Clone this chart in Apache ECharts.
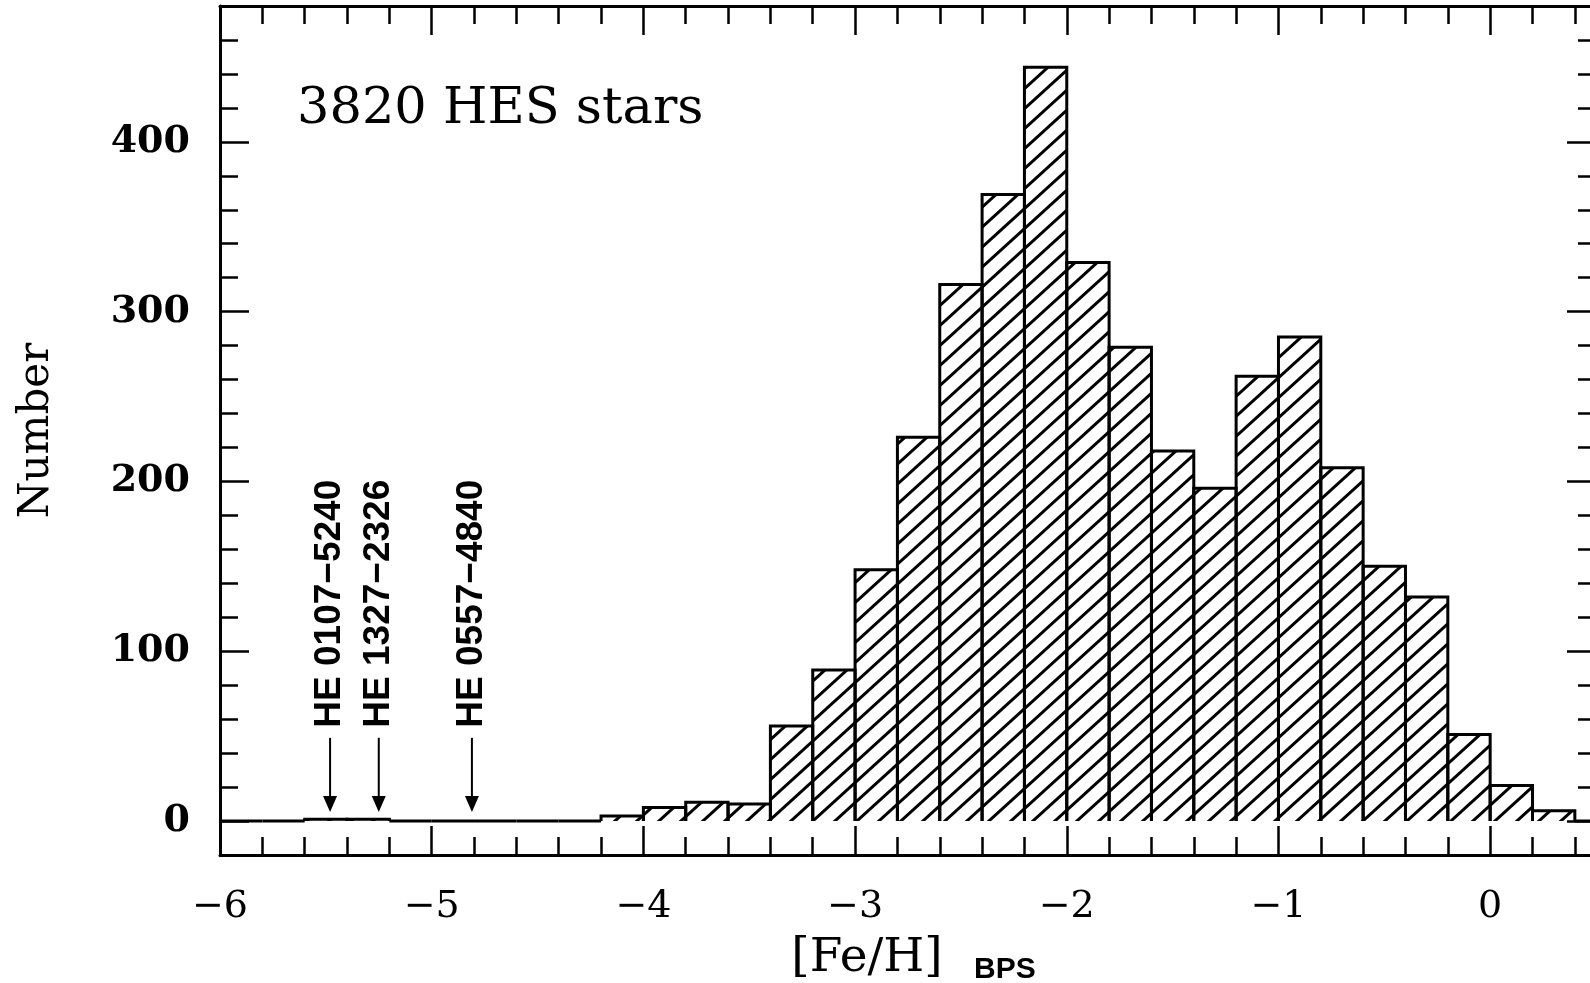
<!DOCTYPE html>
<html>
<head>
<meta charset="utf-8">
<script src="https://cdn.jsdelivr.net/npm/echarts@6/dist/echarts.min.js"></script>
<style>
html,body{margin:0;padding:0;background:#fff;}
#chart{width:1590px;height:983px;}
</style>
</head>
<body>
<div id="chart"></div>
<script>
// ---- data ----
const binStarts = [-6.0,-5.8,-5.6,-5.4,-5.2,-5.0,-4.8,-4.6,-4.4,-4.2,-4.0,-3.8,-3.6,-3.4,-3.2,-3.0,-2.8,-2.6,-2.4,-2.2,-2.0,-1.8,-1.6,-1.4,-1.2,-1.0,-0.8,-0.6,-0.4,-0.2,0.0,0.2,0.4];
const binWidth = 0.2;
const counts = [0,0,1,1,0,0,0,0,0,3,8,11,10,56,89,148,226,316,369,444,329,279,218,196,262,285,208,150,132,51,21,6,0];
const xMajorTicks = [-6,-5,-4,-3,-2,-1,0];
const xMinorTicks = [-5.8,-5.6,-5.4,-5.2,-4.8,-4.6,-4.4,-4.2,-3.8,-3.6,-3.4,-3.2,-2.8,-2.6,-2.4,-2.2,-1.8,-1.6,-1.4,-1.2,-0.8,-0.6,-0.4,-0.2,0.2,0.4];
const yMajorTicks = [0,100,200,300,400];
const yMinorTicks = [20,40,60,80,120,140,160,180,220,240,260,280,320,340,360,380,420,440,460];
const starNames = ['HE 0107\u22125240','HE 1327\u22122326','HE 0557\u22124840'];
const starFeH = [-5.48,-5.25,-4.81];
const arrowTop = 49;
const arrowTip = 5.3;
const labelBase = 55;
const titleText = '3820 HES stars';

// ---- hatch pattern ----
function makeHatch(){
  const w = 22, h = 20;
  const c = document.createElement('canvas');
  c.width = w; c.height = h;
  const g = c.getContext('2d');
  g.strokeStyle = '#000';
  g.lineWidth = 3;
  for (const dx of [-w, 0, w]) {
    g.beginPath();
    g.moveTo(dx - 3, h + 3 * h / w);
    g.lineTo(dx + w + 3, -3 * h / w);
    g.stroke();
  }
  return c;
}
const hatch = {image: makeHatch(), repeat: 'repeat'};

const histData = binStarts.map((s, i) => [s, +(s + binWidth).toFixed(2), counts[i]]);

const chart = echarts.init(document.getElementById('chart'), null, {renderer: 'canvas'});

const serifFont = 'DejaVu Serif';
const fmt = v => String(v).replace('-', '\u2212');

function xAx(position, major, showLine, showLabel){
  return {
    type: 'value', gridIndex: 0, min: -6, max: 0.5, position: position,
    axisLine: {show: showLine, onZero: false, lineStyle: {color: '#000', width: 3}},
    axisTick: {show: true, inside: true, length: major ? 29 : 18, customValues: major ? xMajorTicks : xMinorTicks, lineStyle: {color: '#000', width: 2.5}},
    axisLabel: {show: showLabel, customValues: xMajorTicks, formatter: fmt, margin: 33, color: '#000', fontFamily: serifFont, fontSize: 38},
    splitLine: {show: false}
  };
}
function yAx(position, major, showLine, showLabel){
  return {
    type: 'value', gridIndex: 0, min: -20, max: 480, position: position,
    axisLine: {show: showLine, onZero: false, lineStyle: {color: '#000', width: 3}},
    axisTick: {show: true, inside: true, length: major ? 29 : 18, customValues: major ? yMajorTicks : yMinorTicks, lineStyle: {color: '#000', width: 2.5}},
    axisLabel: {show: showLabel, customValues: yMajorTicks, margin: 30, color: '#000', fontFamily: serifFont, fontWeight: 'bold', fontSize: 38},
    splitLine: {show: false},
    name: showLabel ? 'Number' : '',
    nameLocation: 'middle', nameRotate: 90, nameGap: 162,
    nameTextStyle: {fontFamily: serifFont, fontSize: 42, color: '#000'}
  };
}

const option = {
  animation: false,
  backgroundColor: '#fff',
  grid: {left: 220, right: -6, top: 6, bottom: 128, containLabel: false, outerBoundsMode: 'none'},
  xAxis: [
    xAx('bottom', true, true, true),
    xAx('bottom', false, false, false),
    xAx('top', true, true, false),
    xAx('top', false, false, false)
  ],
  yAxis: [
    yAx('left', true, true, true),
    yAx('left', false, false, false),
    yAx('right', true, true, false),
    yAx('right', false, false, false)
  ],
  graphic: [
    {type: 'text', left: 297, top: 84, style: {text: titleText, font: '51px "DejaVu Serif"', fill: '#000'}},
    {type: 'text', x: 867, y: 959, style: {text: '[Fe/H]', font: '47px "DejaVu Serif"', fill: '#000', align: 'center', verticalAlign: 'middle'}},
    {type: 'text', x: 974, y: 970, style: {text: 'BPS', font: 'bold 30px "Liberation Sans"', fill: '#000', align: 'left', verticalAlign: 'middle'}}
  ],
  series: [
    {
      type: 'custom',
      xAxisIndex: 0, yAxisIndex: 0,
      clip: true,
      data: histData,
      renderItem: function(params, api){
        const x0 = api.value(0), x1 = api.value(1), v = api.value(2);
        const p0 = api.coord([x0, 0]);
        const p1 = api.coord([x1, v]);
        const children = [];
        if (v > 0) {
          children.push({type: 'rect', shape: {x: p0[0], y: p1[1], width: p1[0] - p0[0], height: p0[1] - p1[1]}, style: {fill: hatch}});
        }
        children.push({type: 'polyline', shape: {points: [[p0[0], p0[1]], [p0[0], p1[1]], [p1[0], p1[1]], [p1[0], p0[1]]]}, style: {stroke: '#000', lineWidth: 3, fill: null, lineJoin: 'miter'}});
        return {type: 'group', children: children};
      }
    },
    {
      type: 'custom',
      xAxisIndex: 0, yAxisIndex: 0,
      silent: true,
      data: starFeH.map((x, i) => [x, arrowTop, arrowTip, labelBase, i]),
      renderItem: function(params, api){
        const top = api.coord([api.value(0), api.value(1)]);
        const tip = api.coord([api.value(0), api.value(2)]);
        const lab = api.coord([api.value(0), api.value(3)]);
        const name = starNames[api.value(4)];
        const headH = 16, headW = 7;
        return {type: 'group', children: [
          {type: 'line', shape: {x1: top[0], y1: top[1], x2: tip[0], y2: tip[1] - headH + 2}, style: {stroke: '#000', lineWidth: 2}},
          {type: 'polygon', shape: {points: [[tip[0], tip[1]], [tip[0] - headW, tip[1] - headH], [tip[0] + headW, tip[1] - headH]]}, style: {fill: '#000'}},
          {type: 'text', x: lab[0], y: lab[1], rotation: Math.PI / 2,
            style: {text: name, fill: '#000', font: 'bold 37px "Liberation Sans"', align: 'left', verticalAlign: 'middle'}}
        ]};
      }
    }
  ]
};
chart.setOption(option);
</script>
</body>
</html>
